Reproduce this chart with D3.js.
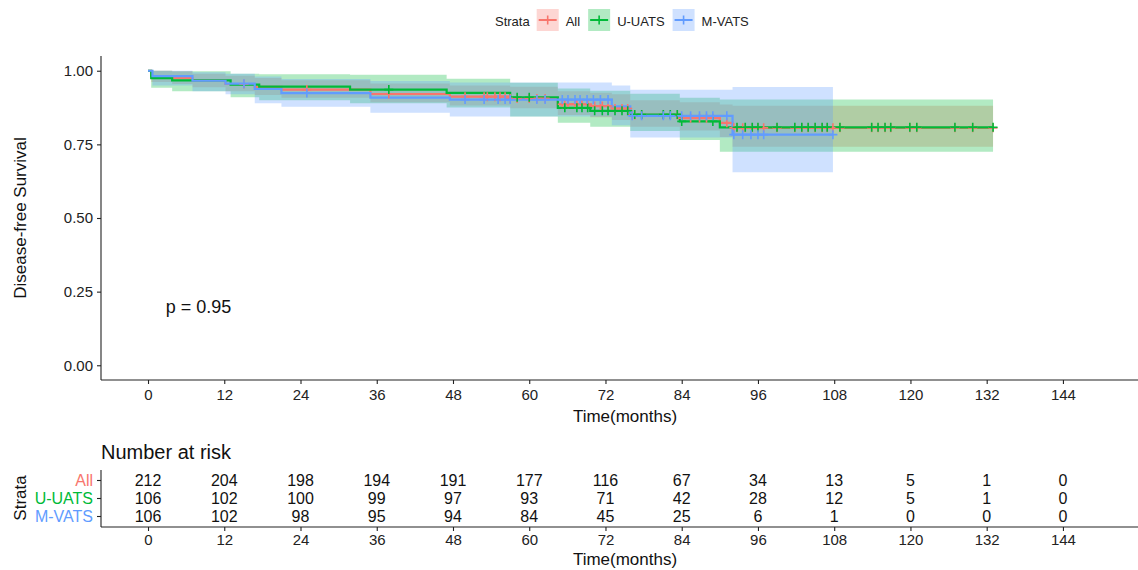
<!DOCTYPE html>
<html><head><meta charset="utf-8">
<script src="https://cdn.jsdelivr.net/npm/d3@7"></script>
<style>body{margin:0;background:#fff}text{font-family:"Liberation Sans",Arial,sans-serif}</style>
</head><body><svg id="c" width="1138" height="570"></svg>
<script>
const strata = ["All", "U-UATS", "M-VATS"];
const colors = ["#F8766D", "#00BA38", "#619CFF"];

// All
const timeAll  = [0, 0.5, 3.8, 7, 12.2, 16.8, 21, 35, 47.5, 57, 64.5, 69.6, 73, 75.9, 83.7, 90, 92];
const survAll  = [1, 0.981, 0.976, 0.967, 0.955, 0.945, 0.936, 0.921, 0.912, 0.906, 0.886, 0.88, 0.872, 0.85, 0.839, 0.823, 0.806];
const upperAll = [1, 1, 0.998, 0.99, 0.983, 0.975, 0.968, 0.957, 0.95, 0.946, 0.93, 0.925, 0.92, 0.9, 0.893, 0.885, 0.881];
const lowerAll = [1, 0.962, 0.955, 0.944, 0.93, 0.918, 0.908, 0.893, 0.882, 0.873, 0.85, 0.842, 0.833, 0.81, 0.797, 0.775, 0.742];
const endAll = 133;

// U-UATS
const timeU  = [0, 0.5, 3.8, 13, 17.5, 31.8, 47, 57, 64.5, 69.6, 75.9, 83.7, 90];
const survU  = [1, 0.975, 0.967, 0.953, 0.946, 0.936, 0.925, 0.91, 0.874, 0.864, 0.851, 0.828, 0.808];
const upperU = [1, 1, 0.998, 0.99, 0.988, 0.986, 0.973, 0.959, 0.94, 0.932, 0.922, 0.908, 0.902];
const lowerU = [1, 0.942, 0.93, 0.91, 0.9, 0.89, 0.875, 0.845, 0.823, 0.81, 0.795, 0.765, 0.725];
const endU = 133;
const censorU = [37.9, 58.1, 60.0, 65.6, 67.5, 68.3, 69.2, 70.3, 71.5, 72.4, 73.5, 74.6, 75.5, 76.6, 77.7, 81.1, 82.2, 83.3, 84.0, 88.9,
  92.7, 94.0, 95.1, 96.0, 99.0, 101.8, 102.9, 103.9, 105.0, 106.1, 106.9, 108.9, 113.9, 114.9, 116.0, 116.9, 119.9, 121.0, 127.0, 129.8, 133.0];

// M-VATS
const timeM  = [0, 0.7, 7, 12.2, 16.8, 21, 35, 47.5, 73, 75.9, 92];
const survM  = [1, 0.982, 0.966, 0.956, 0.938, 0.924, 0.909, 0.902, 0.879, 0.847, 0.783];
const upperM = [1, 1, 0.995, 0.99, 0.98, 0.972, 0.965, 0.96, 0.95, 0.935, 0.945];
const lowerM = [1, 0.95, 0.93, 0.92, 0.89, 0.878, 0.857, 0.845, 0.815, 0.773, 0.655];
const endM = 107.8;
const censorM = [15.1, 25.0, 49.9, 52.9, 55.1, 56.2, 57.0, 61.2, 62.5, 65.2, 66.1, 67.2, 68.0, 69.1, 70.1, 71.2, 72.4, 76.2, 77.7, 81.1, 82.2,
  84.0, 85.4, 86.8, 87.9, 88.9, 91.1, 92.2, 93.6, 94.9, 96.0, 96.9, 107.8];

const censorAll = [15.1, 25.0, 37.9, 49.9, 52.9, 53.4, 54.6, 55.4, 56.2, 57.0, 58.1, 60.0, 61.2, 62.5, 65.2, 65.6, 66.1, 67.2, 67.5, 68.3, 69.2, 70.3,
  71.2, 71.5, 72.4, 73.5, 74.6, 75.5, 76.2, 76.6, 77.7, 81.1, 82.2, 83.3, 84.0, 85.4, 86.8, 87.9, 88.9, 91.1, 92.2, 92.7, 93.6, 94.0, 95.1, 96.0,
  96.9, 99.0, 101.8, 102.9, 103.9, 105.0, 106.1, 106.9, 107.8, 108.9, 113.9, 114.9, 116.0, 116.9, 119.9, 121.0, 127.0, 129.8, 133.0];

const tickTimes = [0, 12, 24, 36, 48, 60, 72, 84, 96, 108, 120, 132, 144];
const yTicks = [0, 0.25, 0.5, 0.75, 1];
const yTickLabels = ["0.00", "0.25", "0.50", "0.75", "1.00"];
const riskAll = [212, 204, 198, 194, 191, 177, 116, 67, 34, 13, 5, 1, 0];
const riskU   = [106, 102, 100, 99, 97, 93, 71, 42, 28, 12, 5, 1, 0];
const riskM   = [106, 102, 98, 95, 94, 84, 45, 25, 6, 1, 0, 0, 0];
const pText = "p = 0.95";

const series = [
  {name: strata[0], color: colors[0], t: timeAll, s: survAll, u: upperAll, l: lowerAll, end: endAll, c: censorAll, risk: riskAll},
  {name: strata[1], color: colors[1], t: timeU, s: survU, u: upperU, l: lowerU, end: endU, c: censorU, risk: riskU},
  {name: strata[2], color: colors[2], t: timeM, s: survM, u: upperM, l: lowerM, end: endM, c: censorM, risk: riskM}
];

const svg = d3.select("#c");
const x = d3.scaleLinear().domain([-7.4, 155.5]).range([101, 1136]);
const y = d3.scaleLinear().domain([-0.05, 1.05]).range([380, 56]);

function pts(sr, key) {
  const p = sr.t.map((t, i) => ({t: t, v: sr[key][i]}));
  p.push({t: sr.end, v: sr[key][sr[key].length - 1]});
  return p;
}
function stepAt(sr, t) {
  const i = d3.bisectRight(sr.t, t) - 1;
  return sr.s[Math.max(0, i)];
}

const g = svg.append("g");
// ribbons
series.forEach(sr => {
  const p = sr.t.map((t, i) => ({t: t, u: sr.u[i], l: sr.l[i]}));
  p.push({t: sr.end, u: sr.u[sr.u.length - 1], l: sr.l[sr.l.length - 1]});
  g.append("path").datum(p)
    .attr("d", d3.area().curve(d3.curveStepAfter).x(d => x(d.t)).y0(d => y(d.l)).y1(d => y(d.u)))
    .attr("fill", sr.color).attr("fill-opacity", 0.3);
});
// lines
series.forEach(sr => {
  g.append("path").datum(pts(sr, "s"))
    .attr("d", d3.line().curve(d3.curveStepAfter).x(d => x(d.t)).y(d => y(d.v)))
    .attr("fill", "none").attr("stroke", sr.color).attr("stroke-width", 2.2);
});
// censor marks
series.forEach(sr => {
  const cg = g.append("g");
  sr.c.forEach(t => {
    const cx = x(t), cy = y(stepAt(sr, t));
    cg.append("path").attr("d", `M${cx - 4.5},${cy}H${cx + 4.5}M${cx},${cy - 4.5}V${cy + 4.5}`)
      .attr("stroke", sr.color).attr("stroke-width", 1.6);
  });
});

// axes main
const ax = svg.append("g").attr("transform", "translate(0,380)")
  .call(d3.axisBottom(x).tickValues(tickTimes).tickSize(4).tickPadding(5).tickSizeOuter(0));
const ay = svg.append("g").attr("transform", "translate(101,0)")
  .call(d3.axisLeft(y).tickValues(yTicks).tickFormat((d, i) => yTickLabels[i]).tickSize(4).tickPadding(4).tickSizeOuter(0));
[ax, ay].forEach(a => {
  a.select(".domain").attr("stroke", "#222").attr("stroke-width", 1.1);
  a.selectAll(".tick line").attr("stroke", "#222").attr("stroke-width", 1.1);
  a.selectAll("text").attr("font-size", 15).attr("fill", "#222").attr("font-family", "Liberation Sans, Arial, sans-serif");
});
ax.select(".domain").attr("d", "M101,0H1138");
ay.select(".domain").attr("d", "M0,56V380");

svg.append("text").attr("transform", "translate(26,218) rotate(-90)").attr("text-anchor", "middle")
  .attr("font-size", 17).attr("fill", "#111").text("Disease-free Survival");
svg.append("text").attr("x", 625).attr("y", 422).attr("text-anchor", "middle")
  .attr("font-size", 17).attr("fill", "#111").text("Time(months)");
svg.append("text").attr("x", x(2.8)).attr("y", y(0.2)).attr("dy", "0.35em")
  .attr("font-size", 18).attr("fill", "#111").text(pText);

// legend
const lg = svg.append("g");
let lx = 495;
const st = lg.append("text").attr("x", lx).attr("y", 26).attr("font-size", 13).attr("fill", "#222").text("Strata");
lx += st.node().getComputedTextLength() + 7;
series.forEach(sr => {
  lg.append("rect").attr("x", lx).attr("y", 9).attr("width", 22).attr("height", 22)
    .attr("fill", sr.color).attr("fill-opacity", 0.3);
  lg.append("path").attr("d", `M${lx + 2},20H${lx + 20}`).attr("stroke", sr.color).attr("stroke-width", 2);
  lg.append("path").attr("d", `M${lx + 11},15.5V24.5`).attr("stroke", sr.color).attr("stroke-width", 1.6);
  const tt = lg.append("text").attr("x", lx + 29).attr("y", 26).attr("font-size", 13).attr("fill", "#222").text(sr.name);
  lx += 29 + tt.node().getComputedTextLength() + 8;
});

// risk table
svg.append("text").attr("x", 101).attr("y", 459).attr("font-size", 20).attr("fill", "#111").text("Number at risk");
const ry = d3.scalePoint().domain([strata[2], strata[1], strata[0]]).range([516, 480]);
const rt = svg.append("g");
series.forEach(sr => {
  sr.risk.forEach((v, i) => {
    rt.append("text").attr("x", x(tickTimes[i])).attr("y", ry(sr.name)).attr("dy", "0.36em")
      .attr("text-anchor", "middle").attr("font-size", 16).attr("fill", "#111").text(v);
  });
});
const rax = svg.append("g").attr("transform", "translate(0,527)")
  .call(d3.axisBottom(x).tickValues(tickTimes).tickSize(4).tickPadding(3).tickSizeOuter(0));
const ray = svg.append("g").attr("transform", "translate(101,0)")
  .call(d3.axisLeft(ry).tickSize(4).tickPadding(4).tickSizeOuter(0));
[rax, ray].forEach(a => {
  a.select(".domain").attr("stroke", "#222").attr("stroke-width", 1.1);
  a.selectAll(".tick line").attr("stroke", "#222").attr("stroke-width", 1.1);
  a.selectAll("text").attr("font-size", 15).attr("fill", "#222").attr("font-family", "Liberation Sans, Arial, sans-serif");
});
rax.select(".domain").attr("d", "M101,0H1138");
ray.select(".domain").attr("d", "M0,470V527");
ray.selectAll(".tick text").attr("font-size", 16).attr("fill", d => colors[strata.indexOf(d)]);
svg.append("text").attr("transform", "translate(26,498) rotate(-90)").attr("text-anchor", "middle")
  .attr("font-size", 17).attr("fill", "#111").text("Strata");
svg.append("text").attr("x", 625).attr("y", 565).attr("text-anchor", "middle")
  .attr("font-size", 17).attr("fill", "#111").text("Time(months)");
</script></body></html>
